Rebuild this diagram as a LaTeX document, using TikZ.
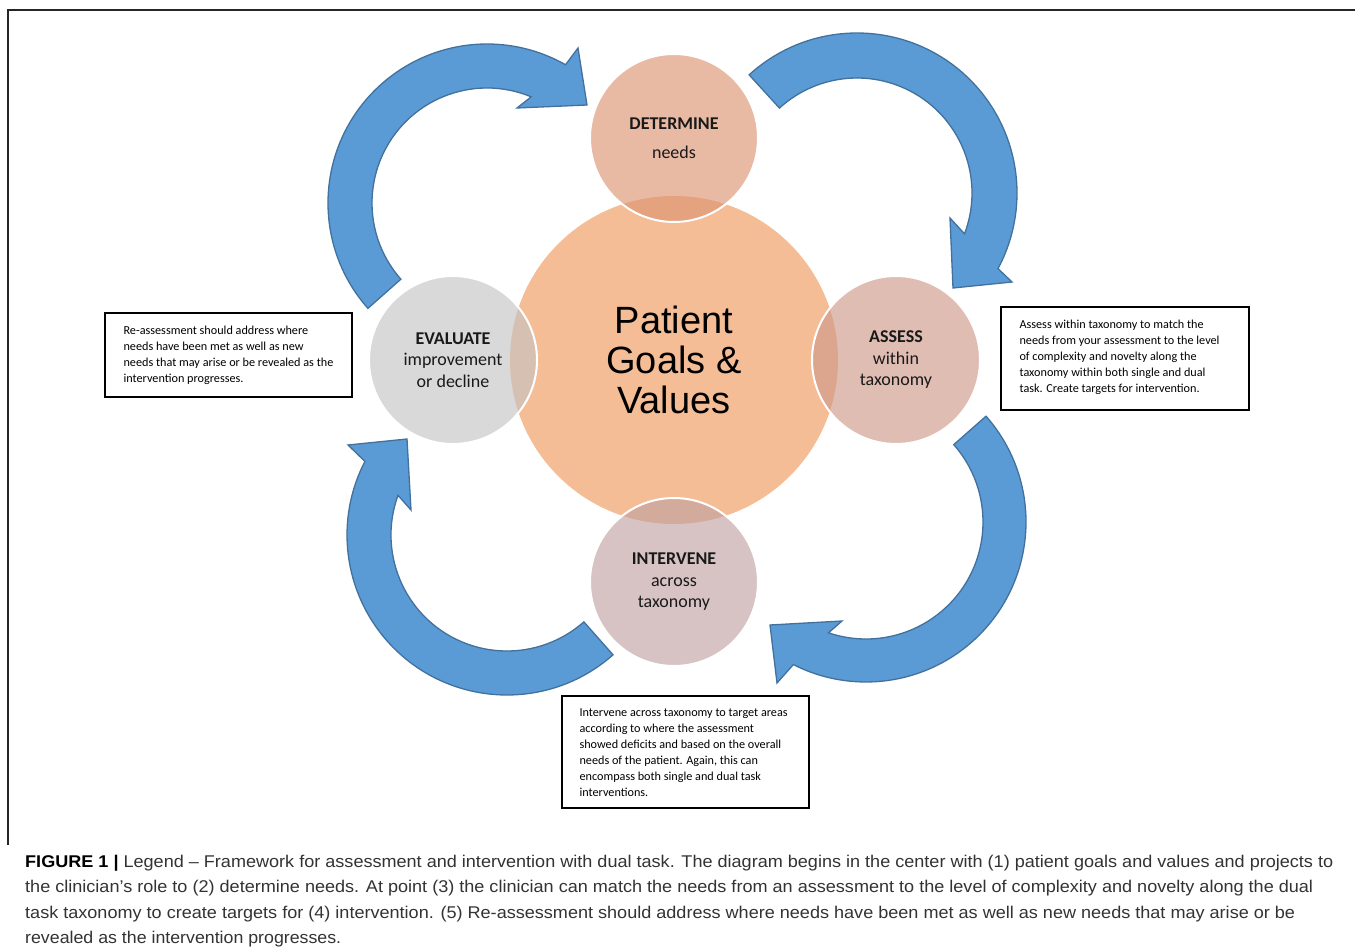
\documentclass[tikz,border=0pt]{standalone}
\usepackage{fontspec}
\usepackage{graphicx}
\setmainfont{Carlito}
\newfontfamily\arialf{Liberation Sans}
\usetikzlibrary{calc}
\definecolor{arrowfill}{HTML}{5B9BD5}
\definecolor{arrowline}{HTML}{41719C}
\definecolor{corefill}{HTML}{F4BD96}
\definecolor{detfill}{HTML}{DC9370}
\definecolor{assfill}{HTML}{CE9888}
\definecolor{intfill}{HTML}{C1A1A1}
\definecolor{evafill}{HTML}{C3C3C3}
\definecolor{captxt}{HTML}{333333}
\begin{document}
\begin{tikzpicture}[x=1pt,y=-1pt,
  bigarrow/.style={fill=arrowfill, draw=arrowline, line width=1.3pt, line join=miter},
  core/.style={circle, minimum size=328pt, inner sep=0pt, fill=corefill, align=center,
    font=\arialf\fontsize{38}{40}\selectfont, text=black},
  stage/.style={circle, minimum size=168pt, inner sep=0pt, draw=white, line width=2pt,
    fill opacity=0.63, text opacity=1, align=center,
    font=\fontsize{18}{21.5}\selectfont, text=black!90},
  notebox/.style={draw=black, line width=1.3pt, inner sep=0pt},
  notetext/.style={anchor=west, align=left, inner sep=0pt, text=black,
    font=\fontsize{12.2}{16}\selectfont},
  capline/.style={anchor=base west, inner sep=0pt, text=captxt,
    font=\arialf\fontsize{17}{25}\selectfont}]
\useasboundingbox (0,0) rectangle (1355,949);
\fill[white] (0,0) rectangle (1355,949);
% frame
\coordinate (fa) at (8,845);
\coordinate (fb) at (8,10);
\coordinate (fc) at (1355,10);
\draw[black!85, line width=1.2pt] (fa) -- (fb) -- (fc);

% circles
\node[core] (goals) at (674,360) {Patient\\Goals \&\\Values};
\node[stage, fill=detfill] (det) at (674,138) {\textbf{DETERMINE}\\[8pt]needs};
\node[stage, fill=assfill] (ass) at (896,360) {\textbf{ASSESS}\\within\\taxonomy};
\node[stage, fill=intfill] (int) at (674,582) {\textbf{INTERVENE}\\across\\taxonomy};
\node[stage, fill=evafill] (eva) at (453,360) {\textbf{EVALUATE}\\improvement\\or decline};

% arrows
\coordinate (c1) at (487,203);
\draw[bigarrow] ($(c1)+(138.5:159)$) arc[start angle=138.5, end angle=299.6, radius=159]
  -- (578,48) -- (587,105) -- (517,108) -- ($(c1)+(292.6:115)$)
  arc[start angle=292.6, end angle=138.5, radius=115] -- cycle;
\coordinate (c2) at (857,193);
\draw[bigarrow] ($(c2)+(227.6:160)$) arc[start angle=227.6, end angle=388.2, radius=160]
  -- (1012,282) -- (953,288) -- (950,218) -- ($(c2)+(380.8:115)$)
  arc[start angle=380.8, end angle=227.6, radius=115] -- cycle;
\coordinate (c3) at (866,522);
\draw[bigarrow] ($(c3)+(-41.4:160)$) arc[start angle=-41.4, end angle=117, radius=160]
  -- (777,683) -- (770,625) -- (842,621) -- ($(c3)+(108.7:117)$)
  arc[start angle=108.7, end angle=-41.4, radius=117] -- cycle;
\coordinate (c4) at (507,535);
\draw[bigarrow] ($(c4)+(48.5:160)$) arc[start angle=48.5, end angle=207.4, radius=160]
  -- (348,445) -- (407,439) -- (411,510) -- ($(c4)+(200:116)$)
  arc[start angle=200, end angle=48.5, radius=116] -- cycle;

% note boxes
\node[notebox, minimum width=248pt, minimum height=103pt] (nass) at (1125,358.5) {};
\node[notetext] (nasst) at ($(nass.west)+(19,-1)$) {Assess within taxonomy to match the\\needs from your assessment to the level\\of complexity and novelty along the\\taxonomy within both single and dual\\task. Create targets for intervention.};
\node[notebox, minimum width=247pt, minimum height=84pt] (neva) at (228.5,355) {};
\node[notetext] (nevat) at ($(neva.west)+(19,0)$) {Re-assessment should address where\\needs have been met as well as new\\needs that may arise or be revealed as the\\intervention progresses.};
\node[notebox, minimum width=247pt, minimum height=112pt] (nint) at (685.5,752) {};
\node[notetext] (nintt) at ($(nint.west)+(18,1)$) {Intervene across taxonomy to target areas\\according to where the assessment\\showed deficits and based on the overall\\needs of the patient. Again, this can\\encompass both single and dual task\\interventions.};

% caption
\node[capline] (cap1) at (25,867) {\resizebox{1308pt}{\height}{\textcolor{black}{\textbf{FIGURE 1 |}} Legend – Framework for assessment and intervention with dual task. The diagram begins in the center with (1) patient goals and values and projects to}};
\node[capline] (cap2) at (25,892) {\resizebox{1288pt}{\height}{the clinician’s role to (2) determine needs. At point (3) the clinician can match the needs from an assessment to the level of complexity and novelty along the dual}};
\node[capline] (cap3) at (25,918) {\resizebox{1270pt}{\height}{task taxonomy to create targets for (4) intervention. (5) Re-assessment should address where needs have been met as well as new needs that may arise or be}};
\node[capline] (cap4) at (25,943) {\resizebox{316pt}{\height}{revealed as the intervention progresses.}};
\end{tikzpicture}
\end{document}
